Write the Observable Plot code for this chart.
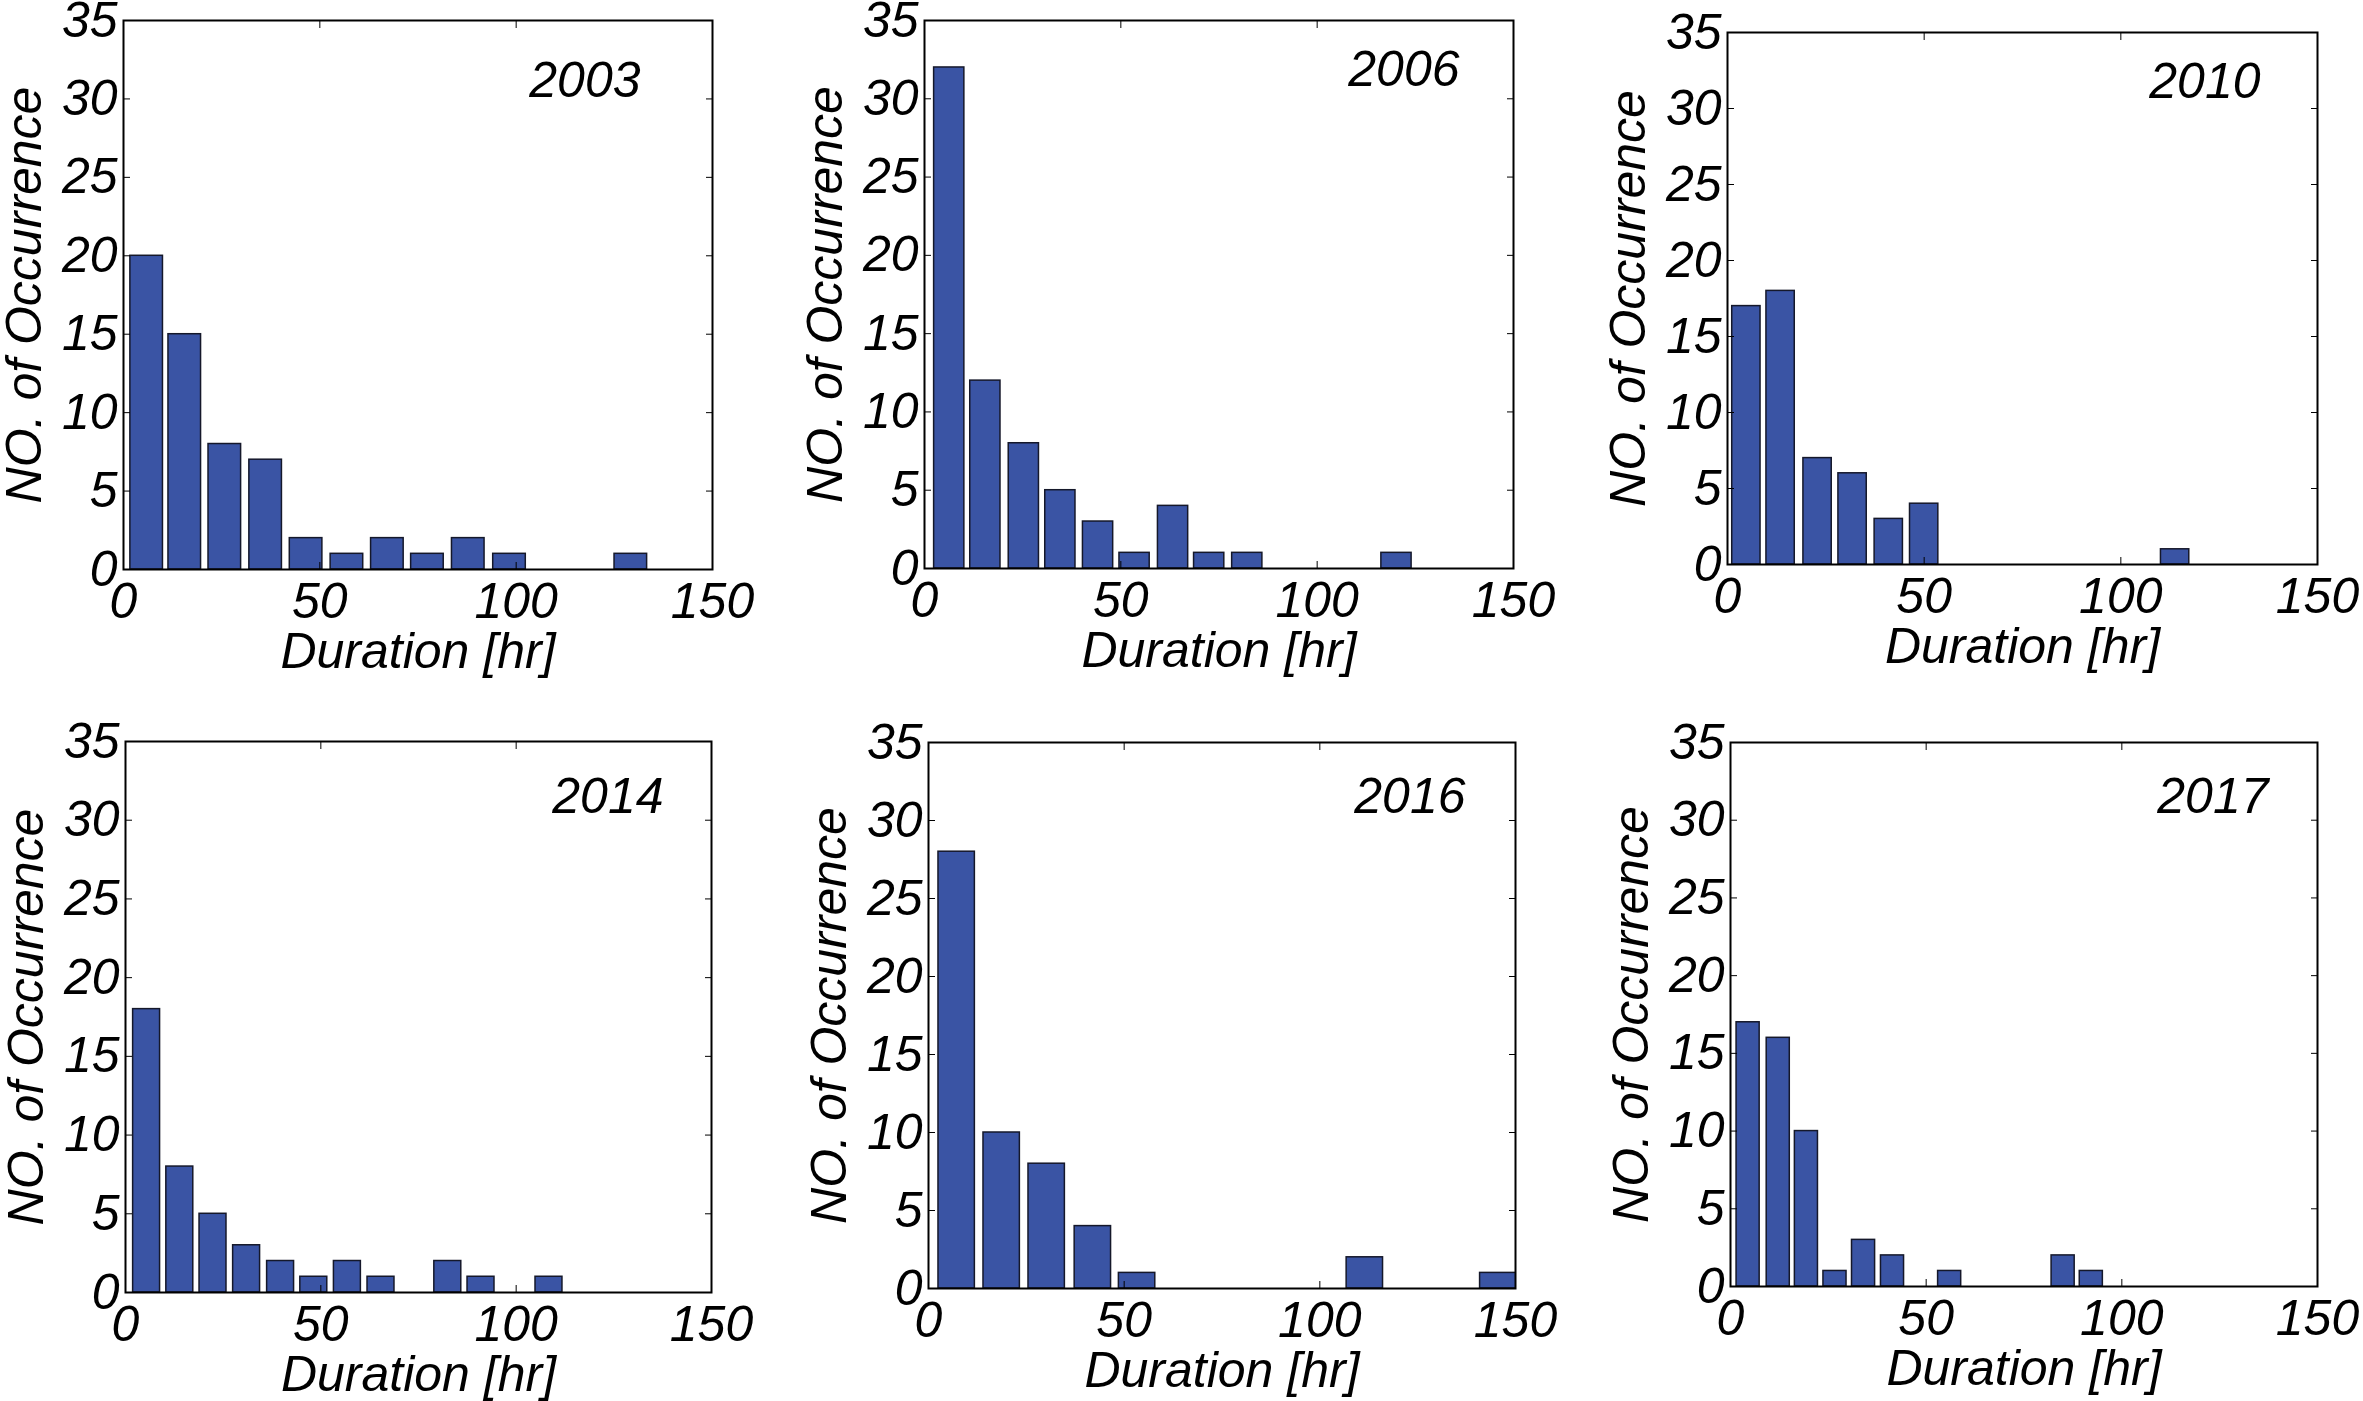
<!DOCTYPE html>
<html>
<head>
<meta charset="utf-8">
<script src="https://cdn.jsdelivr.net/npm/d3@7"></script>
<script src="https://cdn.jsdelivr.net/npm/@observablehq/plot@0.6"></script>
<style>
html, body { margin: 0; padding: 0; background: #fff; overflow: hidden; }
#root { position: relative; width: 2363px; height: 1401px; overflow: hidden; background: #fff; }
#root > .panel { position: absolute; }
#root > .panel > svg { max-width: none !important; display: block; }
</style>
</head>
<body>
<div id="root"></div>
<script>
// ---- data ----
const years = ["2003", "2006", "2010", "2014", "2016", "2017"];

const centers2003 = [5.9, 15.6, 25.8, 36.2, 46.5, 56.9, 67.2, 77.4, 87.8, 98.3, 108.6, 118.9, 129.2];
const counts2003  = [20, 15, 8, 7, 2, 1, 2, 1, 2, 1, 0, 0, 1];

const centers2006 = [6.3, 15.5, 25.3, 34.6, 44.2, 53.5, 63.3, 72.5, 82.2, 91.7, 101.2, 110.7, 120.2];
const counts2006  = [32, 12, 8, 5, 3, 1, 4, 1, 1, 0, 0, 0, 1];

const centers2010 = [4.8, 13.5, 22.9, 31.8, 41.0, 50.0, 59.1, 68.1, 77.2, 86.2, 95.3, 104.3, 113.8];
const counts2010  = [17, 18, 7, 6, 3, 4, 0, 0, 0, 0, 0, 0, 1];

const centers2014 = [5.4, 13.9, 22.4, 31.0, 39.7, 48.2, 56.8, 65.4, 74.0, 82.5, 91.0, 99.6, 108.4];
const counts2014  = [18, 8, 5, 3, 2, 1, 2, 1, 0, 2, 1, 0, 1];

const centers2016 = [7.2, 18.7, 30.2, 42.0, 53.3, 64.8, 76.3, 87.8, 99.3, 111.5, 122.8, 134.3, 145.6];
const counts2016  = [28, 10, 8, 4, 1, 0, 0, 0, 0, 2, 0, 0, 1];

const centers2017 = [4.5, 12.2, 19.4, 26.7, 34.0, 41.4, 48.6, 56.0, 63.2, 70.5, 77.8, 85.0, 92.2];
const counts2017  = [17, 16, 10, 1, 3, 2, 0, 1, 0, 0, 0, 2, 1];

const barWidths = [8.3, 7.7, 7.2, 6.9, 9.3, 5.9]; // hours, per panel

const xTicks = [0, 50, 100, 150];
const yTicks = [0, 5, 10, 15, 20, 25, 30, 35];
const xLabel = "Duration [hr]";
const yLabel = "NO. of Occurrence";

// ---- layout (pixel frames of each panel) ----
const frames = [
  {L: 123, T: 20,  R: 712,  B: 569,  ydx: -72, ydy: 60},
  {L: 924, T: 20,  R: 1513, B: 568,  ydx: -54, ydy: 49},
  {L: 1727, T: 32, R: 2317, B: 564,  ydx: -57, ydy: 49},
  {L: 125, T: 741, R: 711,  B: 1292, ydx: -48, ydy: 55},
  {L: 928, T: 742, R: 1515, B: 1288, ydx: -50, ydy: 54},
  {L: 1730, T: 742, R: 2317, B: 1286, ydx: -49, ydy: 54}
];

const series = [
  [centers2003, counts2003],
  [centers2006, counts2006],
  [centers2010, counts2010],
  [centers2014, counts2014],
  [centers2016, counts2016],
  [centers2017, counts2017]
];

const mL = 122, mT = 22, mR = 45, mB = 112;
const FONT = "'Liberation Sans', Arial, Helvetica, sans-serif";
const BAR = "#3a54a4";
const root = document.getElementById("root");

series.forEach(([centers, counts], i) => {
  const f = frames[i];
  const w = barWidths[i];
  const data = centers
    .map((c, j) => ({x1: c - w / 2, x2: c + w / 2, y: counts[j]}))
    .filter(d => d.y > 0);
  const W = f.R - f.L + mL + mR;
  const H = f.B - f.T + mT + mB;
  const chart = Plot.plot({
    width: W,
    height: H,
    marginLeft: mL, marginTop: mT, marginRight: mR, marginBottom: mB,
    style: {fontFamily: FONT, fontStyle: "italic", fontSize: "50px", color: "#000", background: "transparent", overflow: "visible", maxWidth: "none"},
    x: {domain: [0, 150]},
    y: {domain: [0, 35]},
    marks: [
      Plot.rectY(data, {x1: "x1", x2: "x2", y: "y", fill: BAR, stroke: "#15182a", strokeWidth: 1.5, clip: true}),
      Plot.axisX(xTicks, {anchor: "bottom", tickSize: 0, tickPadding: 13, label: xLabel, labelAnchor: "center", labelOffset: 98, labelArrow: "none"}),
      Plot.axisX(xTicks, {anchor: "bottom", tickSize: -7, tickFormat: () => "", label: null}),
      Plot.axisX(xTicks, {anchor: "top", tickSize: -7, tickFormat: () => "", label: null}),
      Plot.axisY(yTicks, {anchor: "left", tickSize: 0, tickPadding: 6, label: yLabel, labelAnchor: "center", labelOffset: 118, labelArrow: "none"}),
      Plot.axisY(yTicks, {anchor: "left", tickSize: -7, tickFormat: () => "", label: null}),
      Plot.axisY(yTicks, {anchor: "right", tickSize: -7, tickFormat: () => "", label: null}),
      Plot.frame({stroke: "#000", strokeWidth: 2}),
      Plot.text([years[i]], {frameAnchor: "top-right", textAnchor: "end", lineAnchor: "middle", dx: f.ydx, dy: f.ydy, fontSize: 50, fill: "#000"})
    ]
  });
  chart.style.maxWidth = "none";
  chart.style.width = W + "px";
  chart.style.height = H + "px";
  const div = document.createElement("div");
  div.className = "panel";
  div.style.left = (f.L - mL) + "px";
  div.style.top = (f.T - mT) + "px";
  div.style.width = W + "px";
  div.style.height = H + "px";
  div.appendChild(chart);
  root.appendChild(div);
});
</script>
</body>
</html>
